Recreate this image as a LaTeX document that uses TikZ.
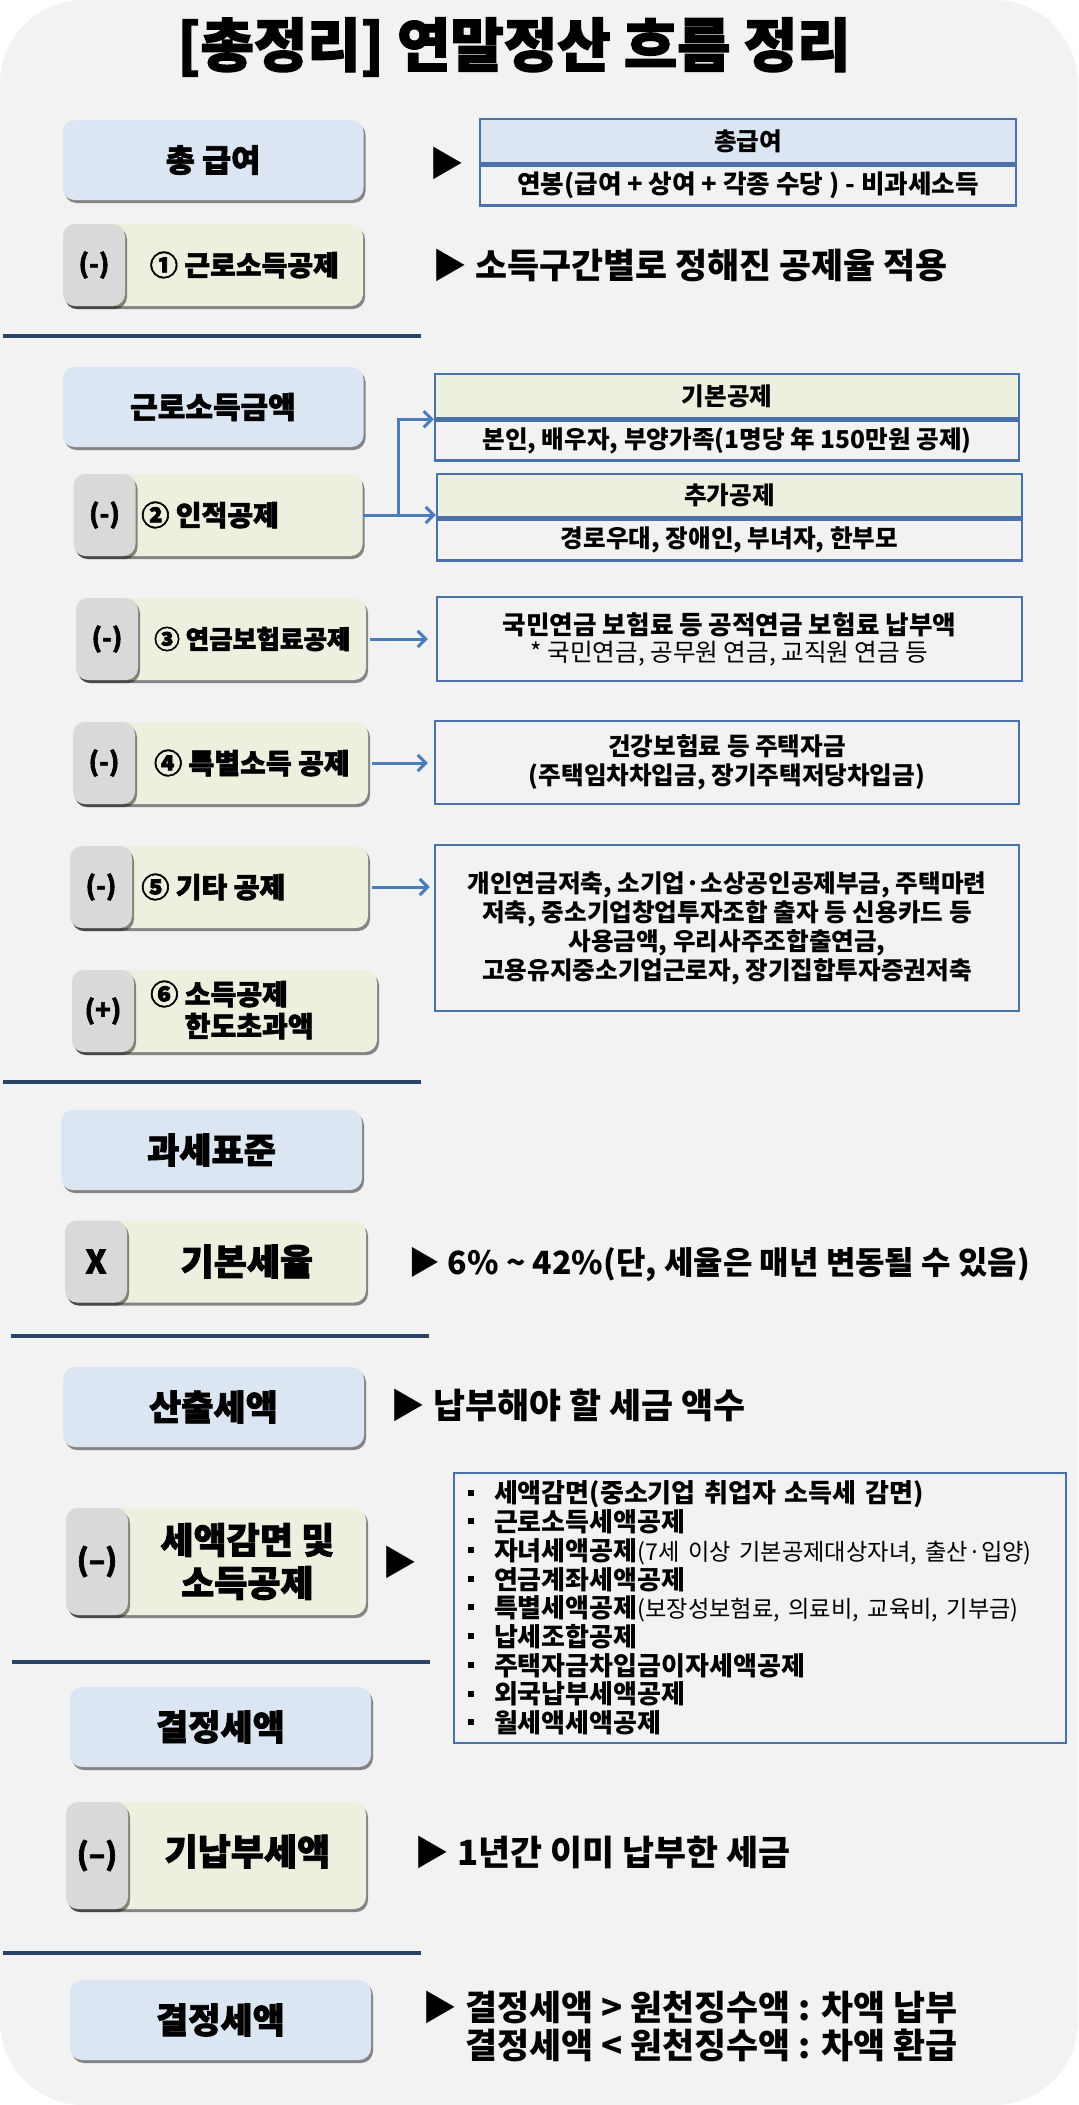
\documentclass[tikz,border=0pt]{standalone}
\usepackage{fontspec}
\setmainfont{Noto Sans CJK KR}
\newfontfamily\heavyfont{Noto Sans CJK KR}[BoldFeatures={FakeBold=2.2}]
\usepackage{tikz}
\usetikzlibrary{arrows.meta, calc, shadows}
\definecolor{cBack}{HTML}{F2F2F2}
\definecolor{cPaper}{HTML}{F2F2F2}
\definecolor{cBlueBox}{HTML}{DCE6F2}
\definecolor{cGreenBox}{HTML}{EBF1DE}
\definecolor{cTab}{HTML}{D9D9D9}
\definecolor{cFrame}{HTML}{4A72A8}
\definecolor{cArrow}{HTML}{4A7EBB}
\definecolor{cNavy}{HTML}{2A4366}
\newcommand{\listdot}{\makebox[13pt][l]{\raisebox{0.28em}{\rule{3pt}{3pt}}}}
\newcommand{\listnote}[1]{{\mdseries\fontsize{11.6}{14.35}\selectfont #1}}

\begin{document}
\begin{tikzpicture}[x=0.5pt, y=-0.5pt,
    boxshadow/.style={drop shadow={shadow xshift=1pt, shadow yshift=-1.5pt, fill=black, opacity=0.45}},
    bluebox/.style={fill=cBlueBox, rounded corners=6pt, minimum width=150.5pt, minimum height=40pt, boxshadow,
        font=\heavyfont\bfseries\fontsize{17.5}{20}\selectfont},
    greenbox/.style={fill=cGreenBox, rounded corners=6pt, minimum width=150pt, minimum height=41pt, boxshadow},
    signtab/.style={fill=cTab, rounded corners=6pt, minimum width=31pt, minimum height=41pt, anchor=west, boxshadow,
        font=\heavyfont\bfseries\fontsize{13}{14}\selectfont},
    boxlabel/.style={inner sep=0pt, font=\heavyfont\bfseries\fontsize{14}{16}\selectfont},
    biglabel/.style={inner sep=0pt, align=center, font=\heavyfont\bfseries\fontsize{18}{21.5}\selectfont},
    desc/.style={anchor=west, inner sep=0pt, font=\bfseries\fontsize{17.4}{19}\selectfont},
    tblhead/.style={draw=cFrame, line width=1.2pt, minimum height=22pt, inner sep=0pt,
        font=\bfseries\fontsize{12.3}{14}\selectfont},
    tblbody/.style={draw=cFrame, line width=1.2pt, fill=cPaper, minimum height=20pt, inner sep=0pt, anchor=north,
        font=\bfseries\fontsize{12.3}{14}\selectfont},
    notebox/.style={draw=cFrame, line width=1.2pt, fill=cPaper, inner sep=0pt, align=center,
        font=\bfseries\fontsize{12.3}{14.5}\selectfont},
    listbox/.style={draw=cFrame, line width=1.2pt, fill=cPaper, text width=292pt, inner xsep=7pt, inner ysep=0pt,
        minimum height=135pt, align=left, font=\bfseries\fontsize{13}{14.35}\selectfont},
    link/.style={draw=cArrow, line width=1.5pt, -{Straight Barb[length=4pt, width=8pt]}},
    sepline/.style={draw=cNavy, line width=2pt}
]
    % background
    \fill[white] (0,0) rectangle (1078,2105);
    \fill[cBack, rounded corners=42pt] (0,0) rectangle (1078,2105);
    \useasboundingbox (0,0) rectangle (1078,2105);

    \node[font=\heavyfont\bfseries\fontsize{29}{36}\selectfont] (title) at (514,47) {[총정리] 연말정산 흐름 정리};

    % total pay
    \node[bluebox, font=\heavyfont\bfseries\fontsize{15.8}{18}\selectfont] (gross) at (213,160) {총 급여};
    \node[desc, anchor=center] (p0) at (447,163) {▶};
    \node[tblhead, fill=cBlueBox, minimum width=268pt] (t1h) at (748,141) {총급여};
    \node[tblbody, minimum width=268pt, font=\bfseries\fontsize{12.8}{14}\selectfont] (t1b) at (t1h.south) {연봉(급여 + 상여 + 각종 수당 ) - 비과세소득};

    \node[greenbox] (b1) at (213,265) {};
    \node[signtab] (s1) at (b1.west) {(-)};
    \node[boxlabel] (l1) at ($(s1.east)!0.5!(b1.east)$) {① 근로소득공제};
    \node[desc] (d1) at (432,265) {▶ 소득구간별로 정해진 공제율 적용};

    \draw[sepline] (3,336) -- (421,336);

    % earned income
    \node[bluebox, font=\heavyfont\bfseries\fontsize{15}{18}\selectfont] (earn) at (213,407) {근로소득금액};

    \node[greenbox, minimum width=144.5pt] (b2) at (218,515) {};
    \node[signtab] (s2) at (b2.west) {(-)};
    \node[boxlabel, anchor=west] (l2) at (141,515) {② 인적공제};
    \node[tblhead, fill=cGreenBox, minimum width=292pt] (t2h) at (727,396) {기본공제};
    \node[tblbody, minimum width=292pt] (t2b) at (t2h.south) {본인, 배우자, 부양가족(1명당 年 150만원 공제)};
    \node[tblhead, fill=cGreenBox, minimum width=292.5pt, minimum height=21.5pt] (t3h) at (729.5,495.5) {추가공제};
    \node[tblbody, minimum width=292.5pt, minimum height=20.5pt] (t3b) at (t3h.south) {경로우대, 장애인, 부녀자, 한부모};
    \draw[link] (b2.east) -- ++(36,0) |- (t2h.south west);
    \draw[link] (b2.east) -- (b2.east -| t3h.south west);

    \node[greenbox, minimum width=145pt] (b3) at (221,639) {};
    \node[signtab] (s3) at (b3.west) {(-)};
    \node[boxlabel, font=\heavyfont\bfseries\fontsize{12.8}{15}\selectfont] (l3) at ($(s3.east)!0.5!(b3.east)$) {③ 연금보험료공제};
    \node[notebox, minimum width=292.5pt, minimum height=42pt, font=\bfseries\fontsize{12.8}{13.5}\selectfont] (n3) at (729.5,639)
        {국민연금 보험료 등 공적연금 보험료 납부액\\{\mdseries\fontsize{12.3}{13.5}\selectfont * 국민연금, 공무원 연금, 교직원 연금 등}};
    \draw[link, shorten <=2pt, shorten >=4pt] (b3.east) -- (b3.east -| n3.west);

    \node[greenbox, minimum width=147.5pt] (b4) at (220.5,763) {};
    \node[signtab] (s4) at (b4.west) {(-)};
    \node[boxlabel] (l4) at ($(s4.east)!0.5!(b4.east)$) {④ 특별소득 공제};
    \node[notebox, minimum width=292pt, minimum height=41.5pt] (n4) at (727,762.5)
        {건강보험료 등 주택자금\\(주택임차차입금, 장기주택저당차입금)};
    \draw[link, shorten <=2pt, shorten >=3pt] (b4.east) -- (b4.east -| n4.west);

    \node[greenbox, minimum width=149pt] (b5) at (219,887) {};
    \node[signtab] (s5) at (b5.west) {(-)};
    \node[boxlabel, anchor=west] (l5) at (141,887) {⑤ 기타 공제};
    \node[notebox, minimum width=292pt, minimum height=83pt] (n5) at (727,928)
        {개인연금저축, 소기업·소상공인공제부금, 주택마련\\저축, 중소기업창업투자조합 출자 등 신용카드 등\\사용금액, 우리사주조합출연금,\\고용유지중소기업근로자, 장기집합투자증권저축};
    \draw[link, shorten <=2pt, shorten >=2pt] (b5.east) -- (b5.east -| n5.west);

    \node[greenbox, minimum width=152.5pt] (b6) at (224.5,1011) {};
    \node[signtab] (s6) at (b6.west) {(+)};
    \node[boxlabel, align=left, anchor=west] (l6) at (150,1010) {⑥ 소득공제\\\phantom{⑥ }한도초과액};

    \draw[sepline] (3,1082) -- (421,1082);

    % tax base
    \node[bluebox] (base) at (211.5,1150) {과세표준};

    \node[greenbox, minimum width=150.5pt] (b7) at (215.5,1261.5) {};
    \node[signtab, font=\heavyfont\bfseries\fontsize{16}{18}\selectfont] (s7) at (b7.west) {X};
    \node[biglabel] (l7) at ($(s7.east)!0.5!(b7.east)$) {기본세율};
    \node[desc, font=\bfseries\fontsize{16}{19}\selectfont] (d7) at (408,1265) {▶ 6\% \textasciitilde{} 42\%(단, 세율은 매년 변동될 수 있음)};

    \draw[sepline] (11,1336) -- (429,1336);

    % computed tax
    \node[bluebox] (calc) at (213.5,1407) {산출세액};
    \node[desc] (d8) at (390,1405) {▶ 납부해야 할 세금 액수};

    \node[greenbox, minimum height=53.5pt] (b9) at (216,1561.5) {};
    \node[signtab, minimum height=53.5pt, font=\heavyfont\bfseries\fontsize{15}{18}\selectfont] (s9) at (b9.west) {(–)};
    \node[biglabel] (l9) at ($(s9.east)!0.5!(b9.east)$) {세액감면 및\\소득공제};
    \node[desc, anchor=center] (p9) at (399.5,1562) {▶};
    \node[listbox] (n9) at (760,1608) {%
        \listdot 세액감면(중소기업 취업자 소득세 감면)\\
        \listdot 근로소득세액공제\\
        \listdot 자녀세액공제\listnote{(7세 이상 기본공제대상자녀, 출산·입양)}\\
        \listdot 연금계좌세액공제\\
        \listdot 특별세액공제\listnote{(보장성보험료, 의료비, 교육비, 기부금)}\\
        \listdot 납세조합공제\\
        \listdot 주택자금차입금이자세액공제\\
        \listdot 외국납부세액공제\\
        \listdot 월세액세액공제};

    \draw[sepline] (12,1662) -- (430,1662);

    % determined tax
    \node[bluebox] (fixed) at (220.5,1727) {결정세액};

    \node[greenbox, minimum height=53.5pt] (b10) at (216,1855.5) {};
    \node[signtab, minimum height=53.5pt, font=\heavyfont\bfseries\fontsize{15}{18}\selectfont] (s10) at (b10.west) {(–)};
    \node[biglabel, yshift=2pt] (l10) at ($(s10.east)!0.5!(b10.east)$) {기납부세액};
    \node[desc] (d10) at (414,1852) {▶ 1년간 이미 납부한 세금};

    \draw[sepline] (3,1953) -- (421,1953);

    \node[bluebox] (final) at (220.5,2020) {결정세액};
    \node[desc, align=left] (d11) at (422,2026)
        {▶ 결정세액 > 원천징수액 : 차액 납부\\\phantom{▶ }결정세액 < 원천징수액 : 차액 환급};
\end{tikzpicture}
\end{document}
